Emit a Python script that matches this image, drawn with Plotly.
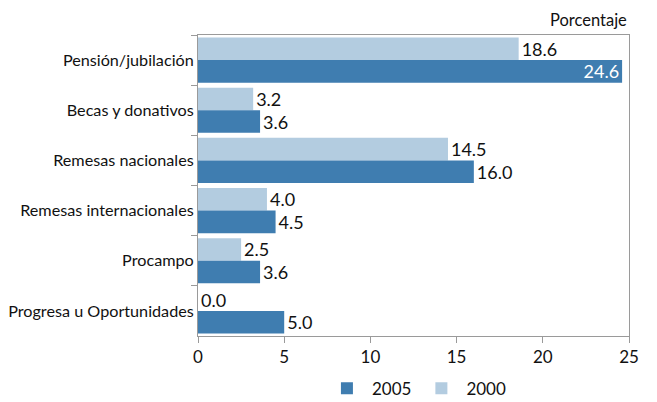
import plotly.graph_objects as go

categories = [
    "Pensión/jubilación",
    "Becas y donativos",
    "Remesas nacionales",
    "Remesas internacionales",
    "Procampo",
    "Progresa u Oportunidades",
]
values_2000 = [18.6, 3.2, 14.5, 4.0, 2.5, 0.0]
values_2005 = [24.6, 3.6, 16.0, 4.5, 3.6, 5.0]
x_ticks = [0, 5, 10, 15, 20, 25]

FONT = "Lato"
DARK = "#3F7DB0"
LIGHT = "#B3CCE0"
GRID = "#9a9a9a"
X_MAX = 25


def label_positions(values):
    # labels that would run past the right frame go inside the bar end
    return ["inside" if v > X_MAX - 2 else "outside" for v in values]


fig = go.Figure()
fig.add_trace(go.Bar(
    y=categories, x=values_2000, orientation="h", name="2000",
    marker=dict(color=LIGHT, line=dict(width=0)),
    text=[f"{v:.1f}" for v in values_2000], textposition=label_positions(values_2000),
    insidetextanchor="end", constraintext="none",
    textfont=dict(family=FONT, size=18, color="#111"),
    insidetextfont=dict(family=FONT, size=18, color="#111"),
    cliponaxis=False, legendrank=2,
))
fig.add_trace(go.Bar(
    y=categories, x=values_2005, orientation="h", name="2005",
    marker=dict(color=DARK, line=dict(width=0)),
    text=[f"{v:.1f}" for v in values_2005], textposition=label_positions(values_2005),
    insidetextanchor="end", constraintext="none",
    textfont=dict(family=FONT, size=18, color="#111"),
    insidetextfont=dict(family=FONT, size=18, color="white"),
    cliponaxis=False, legendrank=1,
))

fig.update_layout(
    width=657, height=402,
    margin=dict(l=198, r=28, t=35, b=66, autoexpand=False),
    paper_bgcolor="white", plot_bgcolor="white",
    barmode="group", bargap=0.1, bargroupgap=0,
    font=dict(family=FONT, size=16.5, color="#111"),
    showlegend=True,
    legend=dict(orientation="h", xref="container", yref="container",
                x=0.49, xanchor="left", y=0.033, yanchor="middle",
                font=dict(family=FONT, size=17, color="#111"),
                itemwidth=40, tracegroupgap=0),
    uniformtext=dict(mode=False),
)
fig.update_xaxes(
    range=[0, X_MAX], tickvals=x_ticks, ticktext=[str(t) for t in x_ticks],
    showgrid=False, zeroline=False, showline=True, linecolor=GRID, linewidth=1,
    mirror=True, ticks="outside", tickcolor=GRID, ticklen=6,
    tickfont=dict(family=FONT, size=17, color="#111"),
)
fig.update_yaxes(
    autorange="reversed", showgrid=False, showline=True, linecolor=GRID, linewidth=1,
    mirror=True, ticks="outside", tickcolor=GRID, ticklen=6, tickson="boundaries",
    tickfont=dict(family=FONT, size=16.2, color="#111"),
)
fig.add_annotation(
    text="Porcentaje", xref="paper", yref="paper", x=1.0, y=1.0,
    xanchor="right", yanchor="bottom", yshift=3, showarrow=False,
    font=dict(family=FONT, size=16.5, color="#111"),
)

fig.write_html("out.html")
